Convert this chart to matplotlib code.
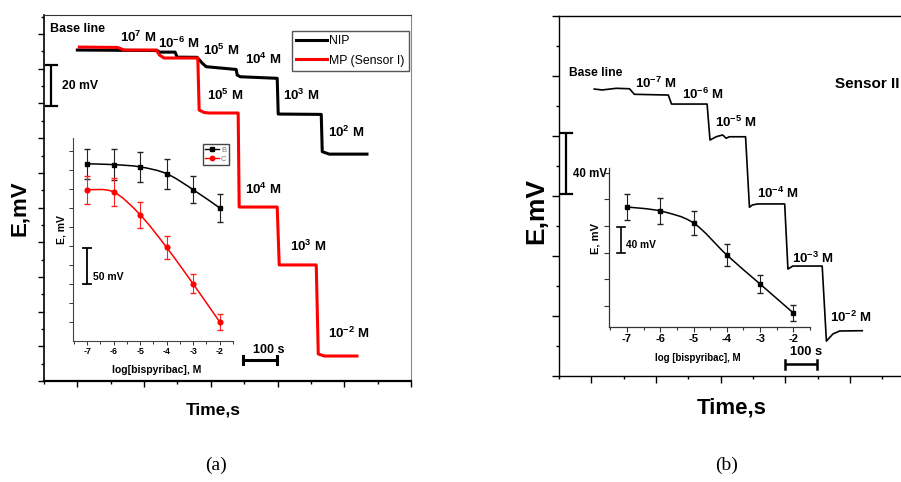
import numpy as np
import matplotlib
matplotlib.use('Agg')
import matplotlib.pyplot as plt
from matplotlib.path import Path
from matplotlib.patches import PathPatch
from matplotlib.lines import Line2D

plt.rcParams['font.family'] = ['Liberation Sans', 'DejaVu Sans']
plt.rcParams['mathtext.fontset'] = 'custom'
plt.rcParams['mathtext.rm'] = 'Liberation Sans'
plt.rcParams['mathtext.bf'] = 'Liberation Sans:bold'
plt.rcParams['axes.unicode_minus'] = False

W, H = 901, 482
################################################################################
# data  (time in s, potential in mV)
nip_t = [0, 240, 246, 293, 299, 359, 374, 386, 476, 479, 488, 599, 602, 731, 734, 755, 868]
nip_e = [190.8, 190.5, 189.6, 189.6, 186.7, 186.6, 183.3, 181.2, 179.6, 176.4, 175.4,
         174.5, 153.9, 153.7, 132.2, 130.8, 130.8]
mp_t = [6, 120, 141, 237, 246, 260, 356, 361, 365, 380, 395, 482, 485, 599, 605, 716,
        722, 740, 838]
mp_e = [192.5, 192.3, 190.8, 190.8, 187.9, 186.2, 186.2, 186.2, 156.2, 154.8, 154.5,
        154.5, 100.3, 100.3, 66.9, 66.9, 15.6, 14.4, 14.4]

s2_t = [9, 34, 77, 118, 133, 238, 248, 358, 367, 386, 406, 417, 427, 477, 489, 498, 514,
        598, 608, 623, 714, 727, 747, 768, 838]
s2_e = [191.3, 190.7, 191.8, 191.5, 187.8, 187.3, 181.3, 181.3, 157.3, 159.5, 160.7, 158.5,
        159.5, 159.5, 112.5, 114.0, 114.7, 114.7, 71.3, 73.3, 73.3, 23.3, 28.0, 30.0, 30.2]

# calibration insets
log_c = [-7, -6, -5, -4, -3, -2]
cal_B = [233, 232, 229, 220, 199, 175]
err_B = [20, 20, 20, 20, 18, 18]
cal_C = [199, 196, 166, 123, 75, 25]
err_C = [18.5, 18.5, 17, 15, 12.5, 10.5]
cal_II = [148.5, 142.5, 124.5, 76.5, 33, -10.5]
err_II = [20, 19.5, 18, 16.5, 13.5, 12]

################################################################################
def px(x, y):
    return x / W, 1 - y / H


def smooth(x, y):
    x = np.asarray(x, float); y = np.asarray(y, float)
    n = len(x)
    verts = [(x[0], y[0])]
    codes = [Path.MOVETO]
    for i in range(n - 1):
        x0, y0 = (x[i-1], y[i-1]) if i > 0 else (x[i], y[i])
        x3, y3 = (x[i+2], y[i+2]) if i + 2 < n else (x[i+1], y[i+1])
        c1 = (x[i] + (x[i+1] - x0) / 6, y[i] + (y[i+1] - y0) / 6)
        c2 = (x[i+1] - (x3 - x[i]) / 6, y[i+1] - (y3 - y[i]) / 6)
        verts += [c1, c2, (x[i+1], y[i+1])]
        codes += [Path.CURVE4] * 3
    return Path(verts, codes)


def txt(x, y, s, size=10, weight='bold', **kw):
    fig.text(*px(x, y), s, fontsize=size, fontweight=weight, **kw)


def vbar(ax, x, y0, y1, cw, lw=1.6):
    ax.plot([x, x], [y0, y1], color='k', lw=lw, solid_capstyle='butt')
    ax.plot([x - cw, x + cw], [y0, y0], color='k', lw=lw)
    ax.plot([x - cw, x + cw], [y1, y1], color='k', lw=lw)


def hbar(ax, y, x0, x1, ch, lw=2.2):
    ax.plot([x0, x1], [y, y], color='k', lw=lw, solid_capstyle='butt')
    ax.plot([x0, x0], [y - ch, y + ch], color='k', lw=lw)
    ax.plot([x1, x1], [y - ch, y + ch], color='k', lw=lw)


fig = plt.figure(figsize=(W / 100, H / 100), dpi=100)

################################################################################
# panel (a)
ax = fig.add_axes([44 / W, 1 - 381 / H, 367 / W, 366 / H])
ax.plot(nip_t, nip_e, color='k', lw=2.2, label='NIP')
ax.plot(mp_t, mp_e, color='#ff0000', lw=2.2, label='MP (Sensor I)')
ax.set_xlim(-100, 1000)
ax.set_ylim(0, 211)
ax.set_xticks(np.arange(0, 1001, 200))
ax.set_xticks(np.arange(-100, 1001, 100), minor=True)
ax.set_yticks(np.arange(0, 211, 20))
ax.set_yticks(np.arange(10, 211, 20), minor=True)
ax.tick_params(which='major', direction='out', length=4.5, width=1, labelbottom=False, labelleft=False)
ax.tick_params(which='minor', direction='out', length=2.5, width=1)
ax.spines['bottom'].set_linewidth(1.6)
ax.spines['left'].set_linewidth(1.2)
ax.spines['top'].set_color('#333')
ax.spines['right'].set_color('#888')
vbar(ax, -78, 158.5, 182.1, 17)
hbar(ax, 12.1, 497, 599, 2.5)
leg = ax.legend(loc='upper left', bbox_to_anchor=(0.676, 0.956), borderaxespad=0,
                fontsize=8.8, handlelength=2.5, handletextpad=0.2, borderpad=0.35,
                labelspacing=0.6, fancybox=False, edgecolor='#555', framealpha=1)
leg.get_frame().set_linewidth(1.0)

txt(50, 32, 'Base line', 9)
for x, y, s in [(120, 42, r'10$^{\mathbf{7}}$ M'), (158, 48, r'10$^{\mathbf{-6}}$ M'),
                (203, 55, r'10$^{\mathbf{5}}$ M'), (245, 64, r'10$^{\mathbf{4}}$ M'),
                (207, 100, r'10$^{\mathbf{5}}$ M'), (283, 100, r'10$^{\mathbf{3}}$ M'),
                (328, 137, r'10$^{\mathbf{2}}$ M'), (245, 194, r'10$^{\mathbf{4}}$ M'),
                (290, 251, r'10$^{\mathbf{3}}$ M'), (328, 338, r'10$^{\mathbf{-2}}$ M')]:
    txt(x, y, s, 9.5)
txt(62, 89, '20 mV', 8.8)
txt(253, 353, '100 s', 9)
txt(20, 208, 'E,mV', 16, rotation=90, ha='center', va='center')
txt(213, 410, 'Time,s', 12.5, ha='center', va='center')
txt(216, 465, '(a)', 14, weight='normal', family='Liberation Serif', ha='center', va='center')

# inset (a)
ia = fig.add_axes([73 / W, 1 - 341 / H, 160 / W, 203 / H])
ia.patch.set_alpha(0)
for sp in ['top', 'right']:
    ia.spines[sp].set_visible(False)
for sp in ['left', 'bottom']:
    ia.spines[sp].set_color('#444')
    ia.spines[sp].set_linewidth(0.8)
ia.add_patch(PathPatch(smooth(log_c, cal_B), fc='none', ec='k', lw=1.1))
ia.add_patch(PathPatch(smooth(log_c, cal_C), fc='none', ec='#ff0000', lw=1.1))
ia.errorbar(log_c, cal_B, yerr=err_B, fmt='none', ecolor='#222', elinewidth=0.8, capsize=2)
ia.errorbar(log_c, cal_C, yerr=err_C, fmt='none', ecolor='#ff2020', elinewidth=0.8, capsize=2)
ia.plot(log_c, cal_B, 's', color='k', ms=3.2)
ia.plot(log_c, cal_C, 'o', color='#ff0000', ms=3.4)
ia.set_xlim(-7.53, -1.5)
ia.set_ylim(0, 267)
ia.set_xticks(log_c)
ia.set_xticks(np.arange(-7.5, -1.4, 0.5), minor=True)
ia.set_yticks(np.arange(25, 251, 25))
ia.tick_params(which='both', direction='out', width=0.7, labelleft=False, colors='#333')
ia.tick_params(which='major', length=3, labelsize=6.3, pad=1.5, labelcolor='k')
ia.tick_params(which='minor', length=1.8)
for t in ia.get_xticklabels():
    t.set_fontweight('bold')
vbar(ia, -7.0, 75, 122.4, 0.15, lw=1.3)
ia.legend(handles=[Line2D([], [], color='k', marker='s', ms=3.2, lw=1),
                   Line2D([], [], color='#ff0000', marker='o', ms=3.2, lw=1)],
          labels=['B', 'C'], loc='upper left', bbox_to_anchor=(0.81, 0.97), borderaxespad=0,
          fontsize=5.5, handlelength=1.9, handletextpad=0.2, borderpad=0.3,
          labelspacing=0.2, fancybox=False, edgecolor='#444', framealpha=1,
          labelcolor='#777')
txt(93, 280, '50 mV', 7.5)
txt(157, 370, 'log[bispyribac], M', 7.5, ha='center', va='center')
txt(61, 230, 'E, mV', 7.5, rotation=90, ha='center', va='center')

################################################################################
# panel (b)
bx = fig.add_axes([559 / W, 1 - 376 / H, 388 / W, 360 / H])
bx.plot(s2_t, s2_e, color='k', lw=1.2)
bx.set_xlim(-100, 1100)
bx.set_ylim(0, 240)
bx.set_xticks(np.arange(0, 1101, 200))
bx.set_xticks(np.arange(-100, 1101, 100), minor=True)
bx.set_yticks(np.arange(0, 241, 40))
bx.set_yticks(np.arange(20, 241, 40), minor=True)
bx.tick_params(which='major', direction='out', length=5, width=1, labelbottom=False, labelleft=False)
bx.tick_params(which='minor', direction='out', length=2.5, width=1)
for sp in bx.spines.values():
    sp.set_linewidth(1.0)
vbar(bx, -77, 121.3, 162, 18)
hbar(bx, 8, 598, 697, 3, lw=1.8)

txt(569, 76, 'Base line', 8.7)
for x, y, s in [(635, 88, r'10$^{\mathbf{-7}}$ M'), (682, 99, r'10$^{\mathbf{-6}}$ M'),
                (715, 127, r'10$^{\mathbf{-5}}$ M'), (757, 198, r'10$^{\mathbf{-4}}$ M'),
                (792, 263, r'10$^{\mathbf{-3}}$ M'), (830, 322, r'10$^{\mathbf{-2}}$ M')]:
    txt(x, y, s, 9.5)
txt(835, 88, 'Sensor II', 11)
txt(573, 177, '40 mV', 8.3)
txt(790, 355, '100 s', 9.3)
txt(536, 211, 'E,mV', 19, rotation=90, ha='center', va='center')
txt(732, 408, 'Time,s', 16, ha='center', va='center')
txt(727, 465, '(b)', 14, weight='normal', family='Liberation Serif', ha='center', va='center')

# inset (b)
ib = fig.add_axes([609 / W, 1 - 327 / H, 201 / W, 159 / H])
ib.patch.set_alpha(0)
for sp in ['top', 'right']:
    ib.spines[sp].set_visible(False)
for sp in ['left', 'bottom']:
    ib.spines[sp].set_color('#333')
    ib.spines[sp].set_linewidth(0.9)
ib.add_patch(PathPatch(smooth(log_c, cal_II), fc='none', ec='k', lw=1.1))
ib.errorbar(log_c, cal_II, yerr=err_II, fmt='none', ecolor='#222', elinewidth=0.8, capsize=2)
ib.plot(log_c, cal_II, 's', color='k', ms=3)
ib.set_xlim(-7.54, -1.5)
ib.set_ylim(-31.5, 207)
ib.set_xticks(log_c)
ib.set_xticks(np.arange(-7.5, -1.4, 0.5), minor=True)
ib.set_yticks(np.arange(0, 201, 40))
ib.tick_params(which='both', direction='out', width=0.8, labelleft=False, colors='#333')
ib.tick_params(which='major', length=3.5, labelsize=8, pad=1.5, labelcolor='k')
ib.tick_params(which='minor', length=2)
for t in ib.get_xticklabels():
    t.set_fontweight('bold')
vbar(ib, -7.18, 79.5, 118.5, 0.12, lw=1.2)
txt(626, 248, '40 mV', 7.3)
txt(698, 358, 'log [bispyribac], M', 7, ha='center', va='center')
txt(595, 238, 'E, mV', 8, rotation=90, ha='center', va='center')

fig.savefig('out.png', dpi=100)
